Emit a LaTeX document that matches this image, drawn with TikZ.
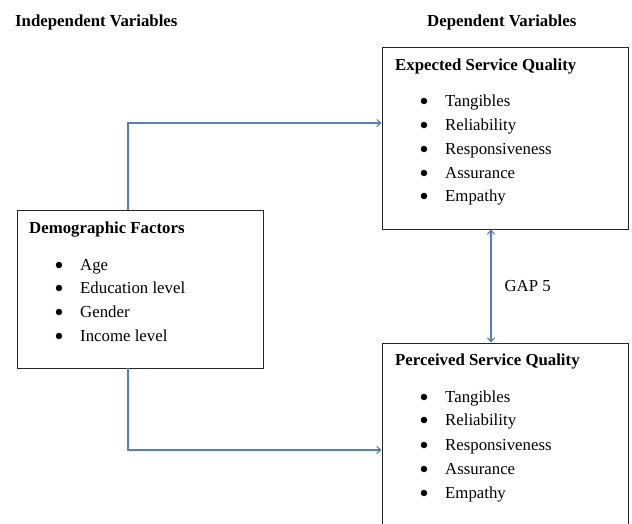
\documentclass[tikz,border=0pt]{standalone}
\usepackage{fontspec}
\setmainfont{Liberation Serif}
\usetikzlibrary{arrows.meta}
\begin{document}
\begin{tikzpicture}[x=1pt,y=-1pt,
  box/.style={draw=black!85,line width=0.9pt,inner sep=0pt,fill=none},
  bl/.style={color={rgb,255:red,79;green,129;blue,189},line width=1.1pt},
  tip/.style={-{Straight Barb[length=4pt,width=7pt]}},
  dtip/.style={{Straight Barb[length=4pt,width=7pt]}-{Straight Barb[length=4pt,width=7pt]}},
  head/.style={font=\fontsize{16.8}{20}\selectfont\bfseries,anchor=base west,inner sep=0pt},
  item/.style={font=\fontsize{16.8}{20}\selectfont,anchor=base west,inner sep=0pt},
  dot/.style={fill=black,draw=none,circle,minimum size=6.5pt,inner sep=0pt}]
\clip (0,0) rectangle (632,523);
\fill[white] (0,0) rectangle (632,523);
% headers
\node[head] (hind) at (15,26) {Independent Variables};
\node[head] (hdep) at (427,26) {Dependent Variables};
% boxes
\node[box,minimum width=246pt,minimum height=182pt] (exp) at (505,138) {};
\node[box,minimum width=246pt,minimum height=220pt] (perc) at (505,453) {};
\node[box,minimum width=246pt,minimum height=158pt] (demo) at (140,289) {};
% expected
\node[head] (et) at (395,70) {Expected Service Quality};
\foreach \t/\y [count=\i] in {Tangibles/101,Reliability/125,Responsiveness/149,Assurance/173,Empathy/196}{
  \node[dot] (ed\i) at (424,\y) {};
  \node[item] (ei\i) at (445,\y+5) {\t};
}
% perceived
\node[head] (pt) at (395,365) {Perceived Service Quality};
\foreach \t/\y [count=\i] in {Tangibles/397,Reliability/420,Responsiveness/445,Assurance/469,Empathy/493}{
  \node[dot] (pd\i) at (424,\y) {};
  \node[item] (pi\i) at (445,\y+5) {\t};
}
% demographic
\node[head] (dt) at (29,233) {Demographic Factors};
\foreach \t/\y [count=\i] in {Age/265,Education level/288,Gender/312,Income level/336}{
  \node[dot] (dd\i) at (59,\y) {};
  \node[item] (di\i) at (80,\y+5) {\t};
}
% connectors
\draw[bl,tip] ([xshift=-12pt]demo.north) |- ([yshift=15pt]exp.west);
\draw[bl,tip] ([xshift=-12pt]demo.south) |- ([yshift=3pt]perc.west);
\draw[bl,dtip] ([xshift=-14pt]exp.south) -- ([xshift=-14pt]perc.north)
  node[midway,right=13pt,font=\fontsize{16.8}{20}\selectfont,text=black,inner sep=0pt] (gap) {GAP 5};
\end{tikzpicture}
\end{document}
